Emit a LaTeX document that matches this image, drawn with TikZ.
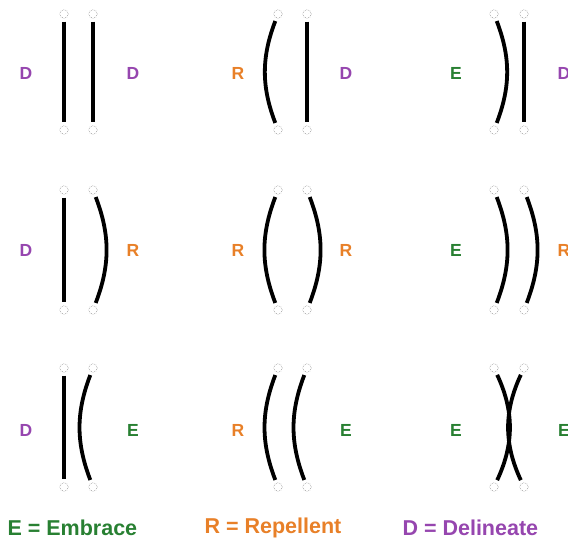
\documentclass[tikz,border=0pt]{standalone}
\usepackage{fontspec}
\setmainfont{Liberation Sans}
\definecolor{cD}{RGB}{150,70,175}
\definecolor{cR}{RGB}{232,128,40}
\definecolor{cE}{RGB}{40,128,50}
\begin{document}
\begin{tikzpicture}[x=1pt,y=-1pt,
  pin/.style={circle,draw=black!40,densely dotted,line width=0.6pt,minimum size=8.5pt,inner sep=0pt},
  bar/.style={line width=3.8pt,black,shorten <=3pt,shorten >=3pt},
  lab/.style={font=\fontsize{17.5}{17.5}\selectfont\bfseries},
  leg/.style={font=\fontsize{21.5}{21.5}\selectfont\bfseries},
  bulge/.style={bend left=21},
  cave/.style={bend right=21}]
\useasboundingbox (0,0) rectangle (568,540);
% ---------- row 1 ----------
\node[pin] (a1t) at (64,14) {}; \node[pin] (a1b) at (64,130) {};
\node[pin] (a2t) at (93,14) {}; \node[pin] (a2b) at (93,130) {};
\draw[bar] (a1t) -- (a1b); \draw[bar] (a2t) -- (a2b);
\node[lab,cD] (la1) at (26,73) {D}; \node[lab,cD] (ra1) at (133,73) {D};

\node[pin] (b1t) at (278,14) {}; \node[pin] (b1b) at (278,130) {};
\node[pin] (b2t) at (307,14) {}; \node[pin] (b2b) at (307,130) {};
\draw[bar] (b1t) to[cave] (b1b); \draw[bar] (b2t) -- (b2b);
\node[lab,cR] (lb1) at (238,73) {R}; \node[lab,cD] (rb1) at (346,73) {D};

\node[pin] (c1t) at (494,14) {}; \node[pin] (c1b) at (494,130) {};
\node[pin] (c2t) at (524,14) {}; \node[pin] (c2b) at (524,130) {};
\draw[bar] (c1t) to[bulge] (c1b); \draw[bar] (c2t) -- (c2b);
\node[lab,cE] (lc1) at (456,73) {E}; \node[lab,cD] (rc1) at (564,73) {D};
% ---------- row 2 ----------
\node[pin] (d1t) at (64,190) {}; \node[pin] (d1b) at (64,310) {};
\node[pin] (d2t) at (93,190) {}; \node[pin] (d2b) at (93,310) {};
\draw[bar] (d1t) -- (d1b); \draw[bar] (d2t) to[bulge] (d2b);
\node[lab,cD] (ld2) at (26,250) {D}; \node[lab,cR] (rd2) at (133,250) {R};

\node[pin] (e1t) at (278,190) {}; \node[pin] (e1b) at (278,310) {};
\node[pin] (e2t) at (307,190) {}; \node[pin] (e2b) at (307,310) {};
\draw[bar] (e1t) to[cave] (e1b); \draw[bar] (e2t) to[bulge] (e2b);
\node[lab,cR] (le2) at (238,250) {R}; \node[lab,cR] (re2) at (346,250) {R};

\node[pin] (f1t) at (494,190) {}; \node[pin] (f1b) at (494,310) {};
\node[pin] (f2t) at (524,190) {}; \node[pin] (f2b) at (524,310) {};
\draw[bar] (f1t) to[bulge] (f1b); \draw[bar] (f2t) to[bulge] (f2b);
\node[lab,cE] (lf2) at (456,250) {E}; \node[lab,cR] (rf2) at (564,250) {R};
% ---------- row 3 ----------
\node[pin] (g1t) at (64,368) {}; \node[pin] (g1b) at (64,487) {};
\node[pin] (g2t) at (93,368) {}; \node[pin] (g2b) at (93,487) {};
\draw[bar] (g1t) -- (g1b); \draw[bar] (g2t) to[cave] (g2b);
\node[lab,cD] (lg3) at (26,430) {D}; \node[lab,cE] (rg3) at (133,430) {E};

\node[pin] (h1t) at (278,368) {}; \node[pin] (h1b) at (278,487) {};
\node[pin] (h2t) at (307,368) {}; \node[pin] (h2b) at (307,487) {};
\draw[bar] (h1t) to[cave] (h1b); \draw[bar] (h2t) to[cave] (h2b);
\node[lab,cR] (lh3) at (238,430) {R}; \node[lab,cE] (rh3) at (346,430) {E};

\node[pin] (k1t) at (494,368) {}; \node[pin] (k1b) at (494,487) {};
\node[pin] (k2t) at (524,368) {}; \node[pin] (k2b) at (524,487) {};
\draw[bar] (k1t) to[bend left=25] (k1b); \draw[bar] (k2t) to[bend right=25] (k2b);
\node[lab,cE] (lk3) at (456,430) {E}; \node[lab,cE] (rk3) at (564,430) {E};
% ---------- legend ----------
\node[leg,cE,anchor=west] (legE) at (4,528) {E = Embrace};
\node[leg,cR,anchor=west] (legR) at (201,528) {R = Repellent};
\node[leg,cD,anchor=west] (legD) at (399,528) {D = Delineate};
\end{tikzpicture}
\end{document}
